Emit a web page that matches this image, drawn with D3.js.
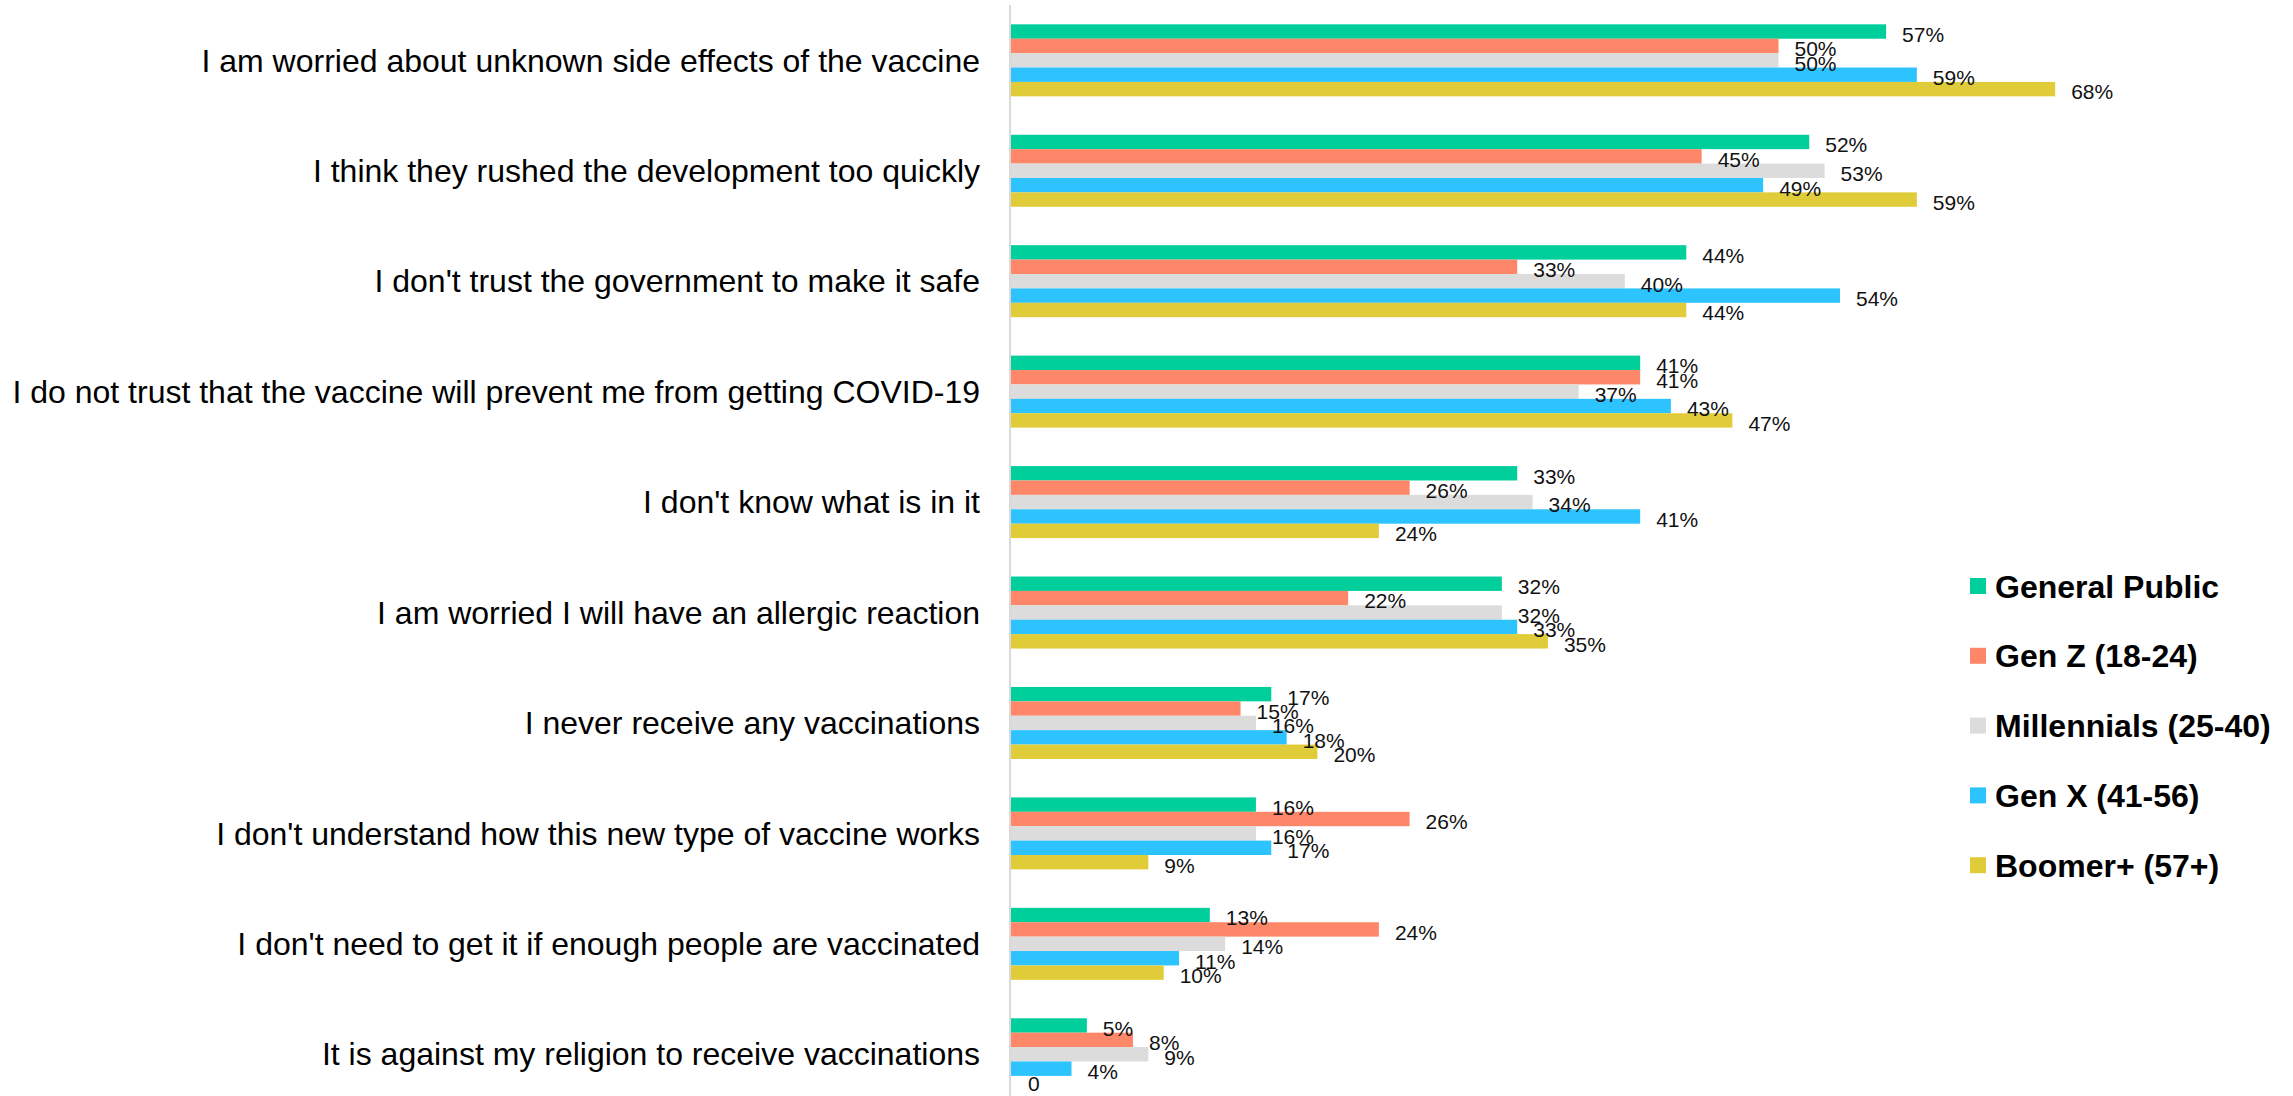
<!DOCTYPE html>
<html>
<head>
<meta charset="utf-8">
<script src="https://cdn.jsdelivr.net/npm/d3@7"></script>
<style>
  html, body { margin: 0; padding: 0; background: #fff; }
  svg { display: block; font-family: Arial, "Liberation Sans", sans-serif; }
</style>
</head>
<body>
<div id="chart"></div>
<script>
// reasons (top to bottom)
const categories = [
  "I am worried about unknown side effects of the vaccine",
  "I think they rushed the development too quickly",
  "I don't trust the government to make it safe",
  "I do not trust that the vaccine will prevent me from getting COVID-19",
  "I don't know what is in it",
  "I am worried I will have an allergic reaction",
  "I never receive any vaccinations",
  "I don't understand how this new type of vaccine works",
  "I don't need to get it if enough people are vaccinated",
  "It is against my religion to receive vaccinations"
];

const seriesNames = ["General Public", "Gen Z (18-24)", "Millennials (25-40)", "Gen X (41-56)", "Boomer+ (57+)"];
const seriesColors = ["#00ce9b", "#ff8769", "#dcdcdc", "#2dc3ff", "#e0cc38"];

// percent, one array per series, same order as categories
const generalPublic = [57, 52, 44, 41, 33, 32, 17, 16, 13, 5];
const genZ          = [50, 45, 33, 41, 26, 22, 15, 26, 24, 8];
const millennials   = [50, 53, 40, 37, 34, 32, 16, 16, 14, 9];
const genX          = [59, 49, 54, 43, 41, 33, 18, 17, 11, 4];
const boomers       = [68, 59, 44, 47, 24, 35, 20, 9, 10, 0];

const seriesValues = [generalPublic, genZ, millennials, genX, boomers];

const W = 2293, H = 1096;
const x0 = 1010;

const svg = d3.select("#chart").append("svg")
  .attr("width", W)
  .attr("height", H);

const x = d3.scaleLinear().domain([0, 100]).range([x0, x0 + 1537]);

const y = d3.scaleBand()
  .domain(categories)
  .range([5.1, 1109.5])
  .paddingInner(0.348)
  .paddingOuter(0.174);

const yInner = d3.scaleBand()
  .domain(seriesNames)
  .range([0, y.bandwidth()]);

// category labels
svg.append("g")
  .selectAll("text")
  .data(categories)
  .join("text")
  .attr("x", 980)
  .attr("y", d => y(d) + y.bandwidth() / 2)
  .attr("dy", "0.35em")
  .attr("text-anchor", "end")
  .style("font-size", "32px")
  .style("fill", "#000")
  .text(d => d);

// bars
const rows = [];
categories.forEach((c, i) => {
  seriesNames.forEach((s, j) => {
    rows.push({cat: c, series: s, color: seriesColors[j], value: seriesValues[j][i]});
  });
});

const barG = svg.append("g");
barG.selectAll("rect")
  .data(rows)
  .join("rect")
  .attr("x", x(0))
  .attr("y", d => y(d.cat) + yInner(d.series))
  .attr("width", d => x(d.value) - x(0))
  .attr("height", yInner.bandwidth())
  .style("fill", d => d.color);

barG.selectAll("text")
  .data(rows)
  .join("text")
  .attr("x", d => x(d.value) + (d.value === 0 ? 18 : 16))
  .attr("y", d => y(d.cat) + yInner(d.series) + yInner.bandwidth() / 2 + (d.value === 0 ? 1 : 3))
  .attr("dy", "0.35em")
  .style("font-size", "21px")
  .style("fill", "#111")
  .text(d => d.value === 0 ? "0" : d.value + "%");

// axis line
svg.append("line")
  .attr("x1", x0).attr("x2", x0)
  .attr("y1", 5).attr("y2", H)
  .style("stroke", "#d9d9d9")
  .style("stroke-width", 2);

// legend
const legend = svg.append("g").attr("transform", "translate(1970,578)");
const item = legend.selectAll("g")
  .data(seriesNames)
  .join("g")
  .attr("transform", (d, i) => `translate(0,${i * 69.8})`);
item.append("rect")
  .attr("width", 16).attr("height", 16)
  .style("fill", (d, i) => seriesColors[i]);
item.append("text")
  .attr("x", 25)
  .attr("y", 8)
  .attr("dy", "0.36em")
  .style("font-size", "32px")
  .style("font-weight", "bold")
  .style("fill", "#000")
  .text(d => d);
</script>
</body>
</html>
